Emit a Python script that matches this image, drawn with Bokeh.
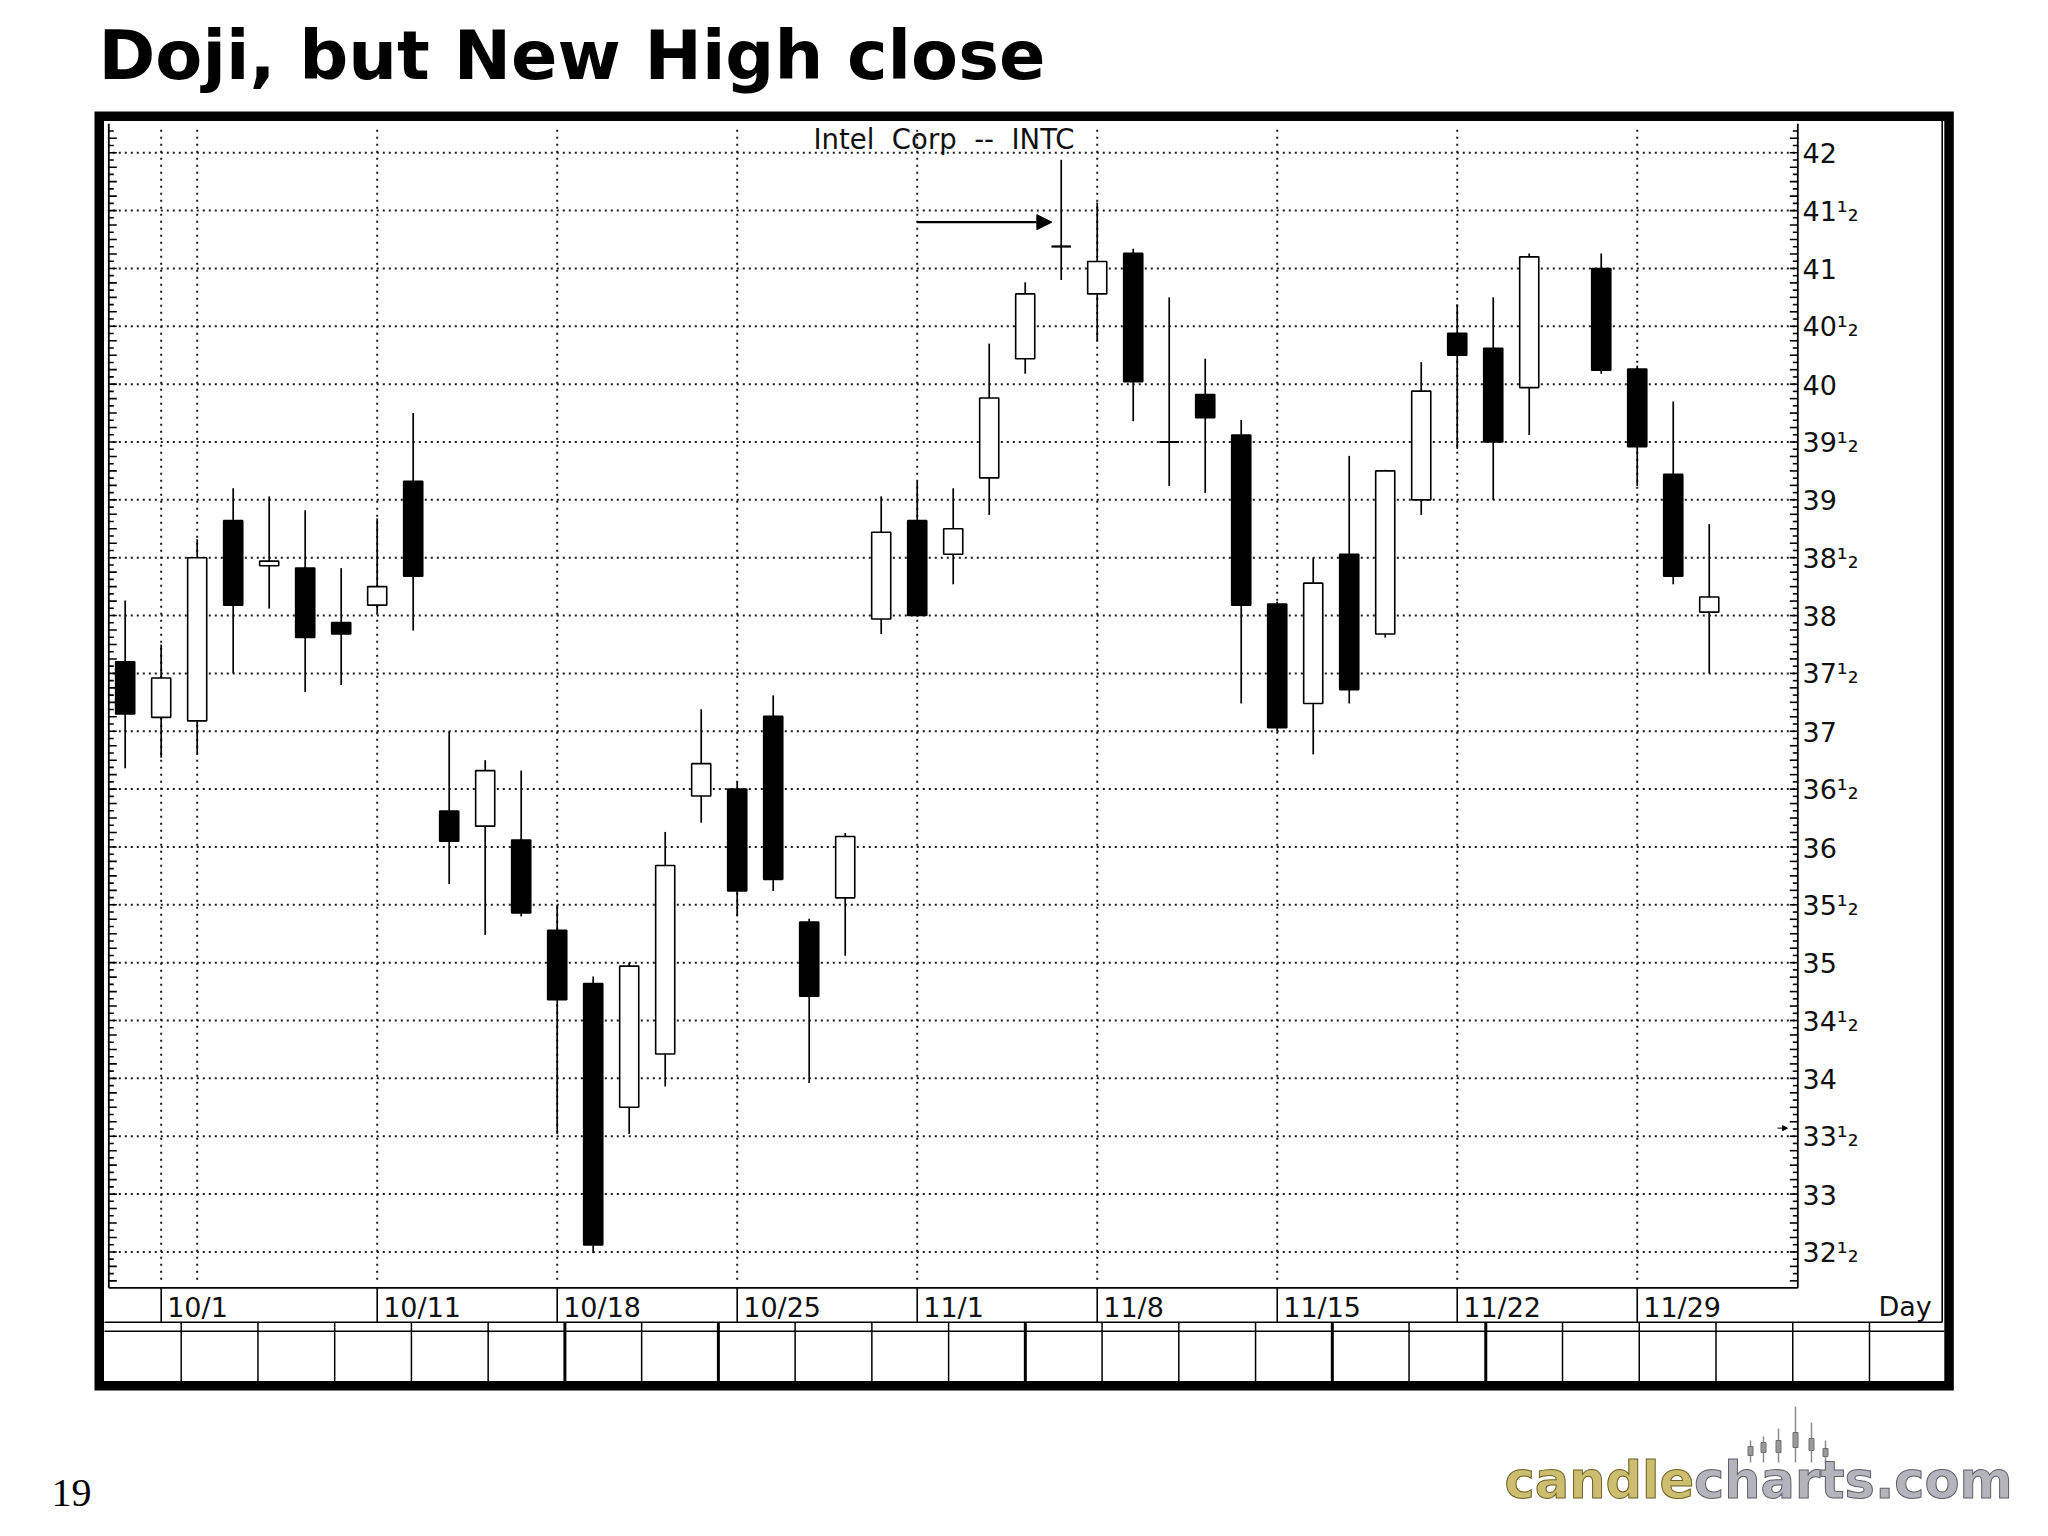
import numpy as np
import pandas as pd
from bokeh.plotting import figure
from bokeh.models import Range1d, ColumnDataSource, Arrow, NormalHead
from bokeh.core.properties import value
from bokeh.embed import file_html
from bokeh.resources import INLINE

# ---------------- data ----------------
dates = ["9/30", "10/1", "10/4", "10/5", "10/6", "10/7", "10/8",
         "10/11", "10/12", "10/13", "10/14", "10/15",
         "10/18", "10/19", "10/20", "10/21", "10/22",
         "10/25", "10/26", "10/27", "10/28", "10/29",
         "11/1", "11/2", "11/3", "11/4", "11/5",
         "11/8", "11/9", "11/10", "11/11", "11/12",
         "11/15", "11/16", "11/17", "11/18", "11/19",
         "11/22", "11/23", "11/24", "11/26",
         "11/29", "11/30", "12/1"]
opens = [37.60, 37.12, 37.09, 38.82, 38.43, 38.41, 37.94,
         38.09, 39.16, 36.31, 36.18, 36.06,
         35.28, 34.82, 33.75, 34.21, 36.44,
         36.50, 37.13, 35.35, 35.56, 37.97,
         38.82, 38.53, 39.19, 40.22, 41.19,
         40.78, 41.13, 39.50, 39.91, 39.56,
         38.10, 37.24, 38.53, 37.84, 39.00,
         40.44, 40.31, 39.97, 41.00,
         40.13, 39.22, 38.03]
highs = [38.13, 37.75, 38.66, 39.10, 39.03, 38.91, 38.41,
         38.84, 39.75, 37.00, 36.75, 36.66,
         35.50, 34.88, 35.00, 36.13, 37.19,
         36.56, 37.31, 35.38, 36.12, 39.03,
         39.16, 39.10, 40.35, 40.88, 41.94,
         41.57, 41.17, 40.75, 40.22, 39.69,
         38.12, 38.50, 39.38, 39.26, 40.19,
         40.69, 40.75, 41.13, 41.13,
         40.16, 39.85, 38.79]
lows = [36.68, 36.77, 36.80, 37.50, 38.06, 37.34, 37.40,
        38.02, 37.87, 35.68, 35.24, 35.40,
        33.52, 32.49, 33.52, 33.93, 36.21,
        35.40, 35.62, 33.96, 35.06, 37.84,
        37.99, 38.27, 38.87, 40.09, 40.90,
        40.37, 39.68, 39.12, 39.06, 37.24,
        37.00, 36.80, 37.24, 37.81, 38.87,
        39.44, 39.00, 39.56, 40.09,
        39.12, 38.27, 37.50]
closes = [37.15, 37.46, 38.50, 38.09, 38.47, 37.81, 37.84,
          38.25, 38.34, 36.05, 36.66, 35.43,
          34.68, 32.56, 34.97, 35.84, 36.72,
          35.62, 35.72, 34.71, 36.09, 38.72,
          38.00, 38.75, 39.88, 40.78, 41.19,
          41.06, 40.02, 39.50, 39.71, 38.09,
          37.03, 38.28, 37.36, 39.25, 39.94,
          40.25, 39.50, 41.10, 40.12,
          39.46, 38.34, 38.16]

week_lines = ["10/1", "10/4", "10/11", "10/18", "10/25", "11/1", "11/8",
              "11/15", "11/22", "11/29"]
date_labels = ["10/1", "10/11", "10/18", "10/25", "11/1", "11/8",
               "11/15", "11/22", "11/29"]
price_levels = [42, 41.5, 41, 40.5, 40, 39.5, 39, 38.5, 38, 37.5, 37,
                36.5, 36, 35.5, 35, 34.5, 34, 33.5, 33, 32.5]
price_labels = ["42", "41\u00b9\u2082", "41", "40\u00b9\u2082", "40",
                "39\u00b9\u2082", "39", "38\u00b9\u2082", "38",
                "37\u00b9\u2082", "37", "36\u00b9\u2082", "36",
                "35\u00b9\u2082", "35", "34\u00b9\u2082", "34",
                "33\u00b9\u2082", "33", "32\u00b9\u2082"]
title_text = "Doji, but New High close"
chart_name = "Intel\u00a0 Corp\u00a0 --\u00a0 INTC"
doji_date = "11/5"
arrow_from = "11/1"
arrow_price = 41.40
marker_price = 33.57

# ---------------- layout (page pixels) ----------------
W, H, M = 2040, 1528, 0
BX0, BX1, BY0, BY1 = 108.3, 1797.3, 123.3, 1287.3      # price panel box
SLOT_LO, SLOT_HI = 0.545, 47.46                         # x-extent of panel (day slots)
P_LO, P_HI = 32.19, 42.25                               # y-extent of panel (price)
ROW_Y = 1321.7                                          # bottom of date row
TAB_Y0, TAB_Y1 = 1330.7, 1381.0
FRAME = (94.0, 1953.3, 111.0, 1390.0)
FRAME_W = 9.5
K = 0.35   # baseline correction (fraction of font size)

sx = (BX1 - BX0) / (SLOT_HI - SLOT_LO)
sy = (BY1 - BY0) / (P_HI - P_LO)
slot_rng = Range1d(SLOT_LO - (BX0 - M) / sx, SLOT_HI + (M + W - BX1) / sx)
price_rng = Range1d(P_LO - (M + H - BY1) / sy, P_HI + (BY0 - M) / sy)

# trading-day slots (one slot per weekday, holidays left empty)
cal = pd.bdate_range("1999-09-30", "1999-12-01")
slot_of = {f"{d.month}/{d.day}": i + 1 for i, d in enumerate(cal)}
xs = [slot_of[d] for d in dates]

p = figure(width=W, height=H, x_range=Range1d(M, M + W), y_range=Range1d(M + H, M),
           output_backend="svg", toolbar_location=None, min_border=0,
           x_axis_type=None, y_axis_type=None)
p.extra_x_ranges = {"slot": slot_rng}
p.extra_y_ranges = {"price": price_rng}
p.outline_line_color = None
p.background_fill_color = "white"
p.border_fill_color = "white"

FONT = value("DejaVu Sans")


def txt(x, y, text, size, font=FONT, dy=0.0, **kw):
    kw.setdefault("text_align", "left")
    kw.setdefault("text_color", "#111111")
    return p.text(x=x, y=y, text=text, text_font=font, text_font_size=value(f"{size}px"),
                  text_baseline="alphabetic", y_offset=dy - K * size, **kw)


# ---- dotted grid ----
p.segment(x0=BX0 + 4, x1=BX1 - 2, y0=price_levels, y1=price_levels, y_range_name="price",
          line_color="#1a1a1a", line_width=2, line_dash="2 4")
wx = [slot_of[d] for d in week_lines]
p.segment(x0=wx, x1=wx, y0=BY0 + 6, y1=BY1 - 4, x_range_name="slot",
          line_color="#1a1a1a", line_width=2, line_dash="2 5")

# ---- axis ticks (1/16 steps, long at 1/8) ----
tv = np.arange(32.25, 42.25 + 1e-9, 1 / 16)
tv = tv[(tv > P_LO) & (tv < P_HI)]
tl = np.where(np.round(tv * 16) % 2 == 0, 8.0, 5.0)
p.segment(x0=BX0, x1=BX0 + tl, y0=tv, y1=tv, y_range_name="price", line_color="black", line_width=1.6)
p.segment(x0=BX1 - tl, x1=BX1, y0=tv, y1=tv, y_range_name="price", line_color="black", line_width=1.6)

# ---- panel lines ----
p.segment(x0=[BX0, BX1, BX0], x1=[BX0, BX1, BX1], y0=[BY0, BY0, BY1], y1=[BY1, BY1, BY1],
          line_color="black", line_width=1.8)
p.segment(x0=[104, 104, 1941.7], x1=[1941.7, 1944, 1941.7], y0=[ROW_Y, TAB_Y0, 120],
          y1=[ROW_Y, TAB_Y0, ROW_Y], line_color="black", line_width=1.6)
lx = [slot_of[d] for d in date_labels]
p.segment(x0=lx, x1=lx, y0=BY1, y1=ROW_Y, x_range_name="slot", line_color="black", line_width=1.6)
tab_x = 180.7 + 76.74 * np.arange(23)
tab_w = np.where(np.isin(np.arange(23), [5, 7, 11, 15, 17]), 3.0, 1.5)
p.segment(x0=tab_x, x1=tab_x, y0=ROW_Y, y1=TAB_Y1, line_color="black", line_width=tab_w)

# ---- candles ----
up = [c >= o for o, c in zip(opens, closes)]
src = ColumnDataSource(dict(
    x=xs, high=highs, low=lows,
    top=[max(o, c) for o, c in zip(opens, closes)],
    bottom=[min(o, c) for o, c in zip(opens, closes)],
    fill=["white" if u else "black" for u in up]))
p.segment(x0="x", x1="x", y0="low", y1="high", source=src, x_range_name="slot",
          y_range_name="price", line_color="black", line_width=1.7)
p.vbar(x="x", width=0.53, top="top", bottom="bottom", fill_color="fill", line_color="black",
       line_width=1.6, source=src, x_range_name="slot", y_range_name="price")
dj = [i for i, (o, c) in enumerate(zip(opens, closes)) if abs(o - c) < 0.005]
p.segment(x0=[xs[i] - 0.27 for i in dj], x1=[xs[i] + 0.27 for i in dj],
          y0=[closes[i] for i in dj], y1=[closes[i] for i in dj],
          x_range_name="slot", y_range_name="price", line_color="black", line_width=2)

# ---- arrow pointing at the doji ----
p.add_layout(Arrow(end=NormalHead(size=15, fill_color="black", line_color="black"),
                   x_start=slot_of[arrow_from], y_start=arrow_price,
                   x_end=slot_of[doji_date] - 0.26, y_end=arrow_price,
                   line_width=2.3, line_color="black",
                   x_range_name="slot", y_range_name="price"))
p.add_layout(Arrow(end=NormalHead(size=5, fill_color="black", line_color="black"),
                   x_start=1777, y_start=marker_price, x_end=1787, y_end=marker_price,
                   line_width=1, line_color="black", y_range_name="price"))

# ---- texts ----
txt(1802, price_levels, price_labels, 27, dy=10, y_range_name="price")
txt(lx, 1316.7, date_labels, 27, x_range_name="slot", x_offset=6)
txt([1878], [1315.5], ["Day"], 27)
txt([813], [148.3], [chart_name], 27.5)
txt([98], [78.3], [title_text], 68.5, text_font_style="bold", text_color="black")
txt([51], [1506], ["19"], 40, font=value("Liberation Serif"), text_color="black")

# ---- logo (candle icon + wordmark) ----
ix = [1750, 1763, 1778, 1795, 1811, 1825]
itop = [1440, 1436, 1428, 1406, 1422, 1440]
p.segment(x0=ix, x1=ix, y0=itop, y1=1462, line_color="#8c8c8c", line_width=1.5)
p.quad(left=[v - 2.5 for v in ix], right=[v + 2.5 for v in ix],
       top=[1446, 1442, 1440, 1432, 1438, 1448], bottom=[1455, 1452, 1452, 1447, 1450, 1456],
       fill_color="#9a9a9a", line_color="#6f6f6f", line_width=1)
r1 = txt([1504], [1498], ["candle"], 51, text_font_style="bold", text_color="#cdbd6e")
r2 = txt([1504 + 3.717 * 51], [1498], ["charts.com"], 51, text_font_style="bold",
         text_color="#b4b4bd")
for r, oc in ((r1, "#6e6127"), (r2, "#5f5f68")):
    if "text_outline_color" in r.glyph.properties():
        r.glyph.text_outline_color = oc

# ---- thick outer frame ----
fh = FRAME_W / 2
p.quad(left=FRAME[0] + fh, right=FRAME[1] - fh, top=FRAME[2] + fh, bottom=FRAME[3] - fh,
       fill_color=None, line_color="black", line_width=FRAME_W, line_join="miter")

open("out.html", "w").write(file_html(p, INLINE))
